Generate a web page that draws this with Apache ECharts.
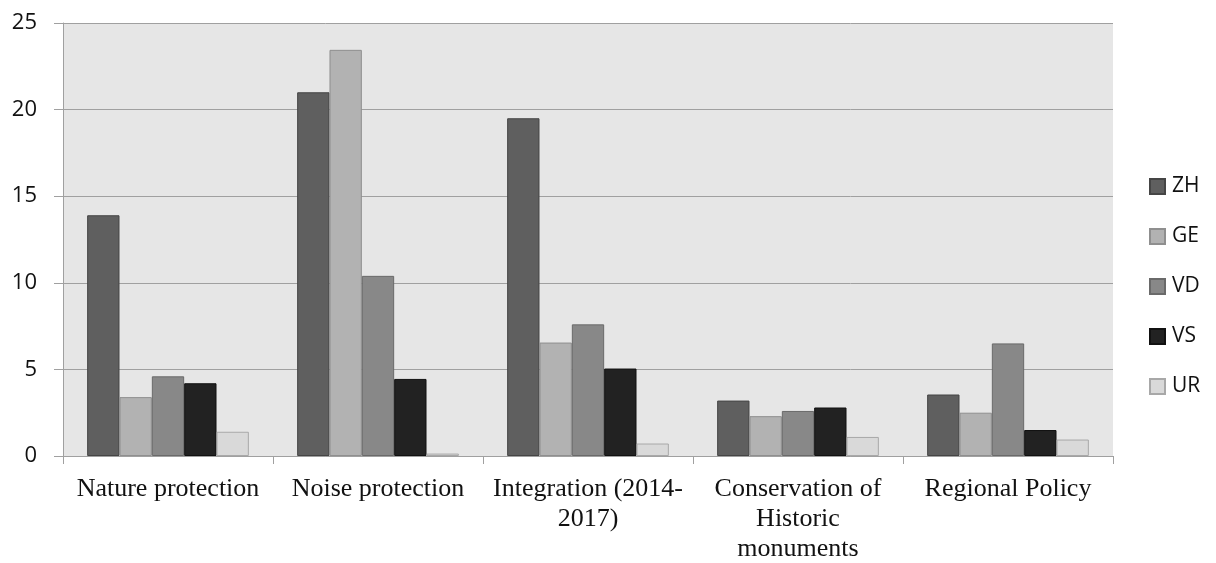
<!DOCTYPE html>
<html>
<head>
<meta charset="utf-8">
<script src="https://cdn.jsdelivr.net/npm/echarts@6/dist/echarts.min.js"></script>
<style>
html,body{margin:0;padding:0;background:#fff;}
#chart{width:1216px;height:563px;}
</style>
</head>
<body>
<div id="chart"></div>
<script>
const categories = ["Nature protection", "Noise protection", "Integration (2014-\n2017)", "Conservation of\nHistoric\nmonuments", "Regional Policy"];
const seriesNames = ["ZH", "GE", "VD", "VS", "UR"];
const ZH = [13.9, 21.0, 19.5, 3.2, 3.55];
const GE = [3.4, 23.45, 6.55, 2.3, 2.5];
const VD = [4.6, 10.4, 7.6, 2.6, 6.5];
const VS = [4.2, 4.45, 5.05, 2.8, 1.5];
const UR = [1.4, 0.14, 0.72, 1.1, 0.95];
const yTicks = [0, 5, 10, 15, 20, 25];

const seriesData = [ZH, GE, VD, VS, UR];
const fills = ["#5f5f5f", "#b2b2b2", "#888888", "#222222", "#d9d9d9"];
const borders = ["#454545", "#8f8f8f", "#6a6a6a", "#111111", "#a8a8a8"];

const chart = echarts.init(document.getElementById('chart'));
chart.setOption({
  animation: false,
  backgroundColor: '#ffffff',
  grid: {
    left: 63, right: 103, top: 23, bottom: 107,
    outerBoundsMode: 'none', containLabel: false,
    show: true, backgroundColor: '#e6e6e6', borderWidth: 0
  },
  legend: {
    orient: 'vertical',
    left: 1149, top: 176, padding: 0,
    itemWidth: 15, itemHeight: 15, itemGap: 29,
    icon: 'rect',
    textStyle: { fontFamily: 'Open Sans', fontSize: 21, color: '#111', lineHeight: 19, padding: [0,0,0,2] },
    data: seriesNames
  },
  xAxis: {
    type: 'category',
    data: categories,
    axisLine: { show: true, lineStyle: { color: '#a0a0a0', width: 1 } },
    axisTick: { show: true, length: 8, lineStyle: { color: '#a0a0a0' } },
    axisLabel: {
      interval: 0, margin: 18,
      fontFamily: 'Liberation Serif', fontSize: 26, lineHeight: 30, color: '#111'
    },
    splitLine: { show: false }
  },
  yAxis: {
    type: 'value',
    min: yTicks[0], max: yTicks[yTicks.length - 1], interval: 5,
    axisLine: { show: true, lineStyle: { color: '#a0a0a0', width: 1 } },
    axisTick: { show: true, inside: false, length: 9, lineStyle: { color: '#a0a0a0' } },
    axisLabel: { margin: 26, fontFamily: 'Open Sans', fontSize: 22, color: '#111' },
    splitLine: { show: true, lineStyle: { color: '#a0a0a0', width: 1 } }
  },
  series: seriesNames.map((name, i) => ({
    name: name,
    type: 'bar',
    data: seriesData[i],
    barGap: '0%',
    barCategoryGap: '23%',
    itemStyle: { color: fills[i], borderColor: borders[i], borderWidth: 1 }
  }))
});
</script>
</body>
</html>
